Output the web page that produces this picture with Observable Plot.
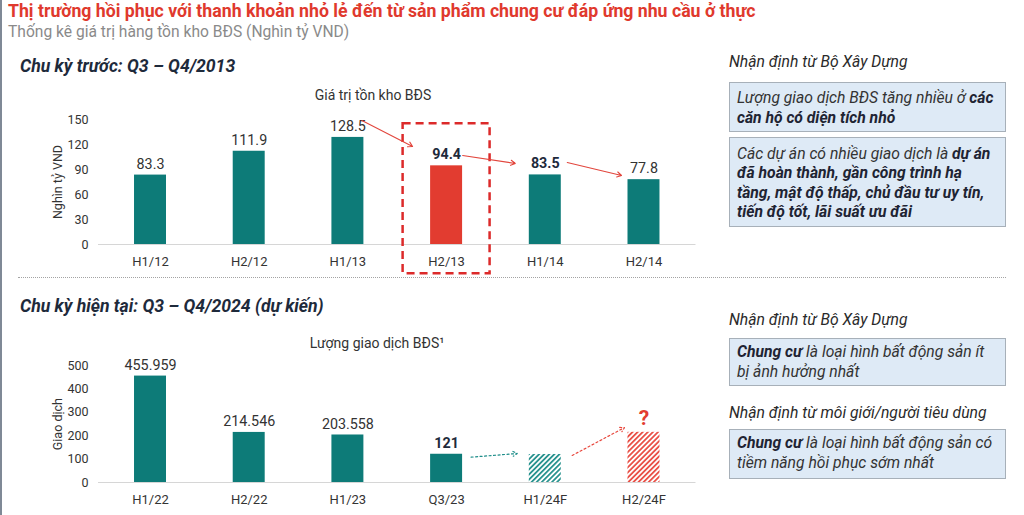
<!DOCTYPE html>
<html><head><meta charset="utf-8">
<script src="https://cdn.jsdelivr.net/npm/d3@7"></script>
<script src="https://cdn.jsdelivr.net/npm/@observablehq/plot@0.6"></script>
<style>
body{margin:0;background:#fff;font-family:Roboto,"Noto Sans",sans-serif;}
#page{position:relative;width:1024px;height:515px;overflow:hidden;background:#fff;}
.abs{position:absolute;white-space:nowrap;line-height:normal;}
#leftbar{position:absolute;left:0;top:0;width:2px;height:515px;background:#7f8996;}
.title{left:8px;top:1.3px;font-size:17.7px;font-weight:bold;color:#e0392d;}
.subtitle{left:8px;top:23.2px;font-size:15.6px;color:#8a8a8a;}
.section{left:20px;font-size:17.6px;font-weight:bold;font-style:italic;color:#1e2a3b;}
.ctitle{font-size:14px;color:#333;transform:translateX(-50%);}
.head{left:729px;font-size:15.7px;font-style:italic;color:#2a2a2a;}
.box{position:absolute;left:729px;width:277px;box-sizing:border-box;border:1px solid #a7b0b9;background:#deeaf6;
  font-size:15.7px;font-style:italic;color:#333;line-height:19.5px;padding-left:7px;white-space:nowrap;}
.box b{color:#1e2433;}
.sep{position:absolute;left:18px;top:277px;width:988px;border-top:1.5px dotted #a3a3a3;}
.chart{position:absolute;left:0;}
</style></head><body><div id="page">
<div id="leftbar"></div>
<div class="abs title">Thị trường hồi phục với thanh khoản nhỏ lẻ đến từ sản phẩm chung cư đáp ứng nhu cầu ở thực</div>
<div class="abs subtitle">Thống kê giá trị hàng tồn kho BĐS (Nghìn tỷ VND)</div>
<div class="abs section" style="top:56.3px">Chu kỳ trước: Q3 – Q4/2013</div>
<div class="abs section" style="top:295.5px">Chu kỳ hiện tại: Q3 – Q4/2024 (dự kiến)</div>
<div class="abs ctitle" style="left:373px;top:87px">Giá trị tồn kho BĐS</div>
<div class="abs ctitle" style="left:377px;top:335px">Lượng giao dịch BĐS¹</div>
<div class="sep"></div>
<div class="chart" id="c1" style="top:78px"></div>
<div class="chart" id="c2" style="top:320px"></div>
<div class="abs head" style="top:52.2px">Nhận định từ Bộ Xây Dựng</div>
<div class="box" style="top:82px;height:50px;padding-top:5px">Lượng giao dịch BĐS tăng nhiều ở <b>các</b><br><b>căn hộ có diện tích nhỏ</b></div>
<div class="box" style="top:137px;height:90px;padding-top:5.7px">Các dự án có nhiều giao dịch là <b>dự án</b><br><b>đã hoàn thành, gần công trình hạ</b><br><b>tầng, mật độ thấp, chủ đầu tư uy tín,</b><br><b>tiến độ tốt, lãi suất ưu đãi</b></div>
<div class="abs head" style="top:310.4px">Nhận định từ Bộ Xây Dựng</div>
<div class="box" style="top:338px;height:48px;padding-top:3px"><b>Chung cư</b> là loại hình bất động sản ít<br>bị ảnh hưởng nhất</div>
<div class="abs head" style="top:402.8px">Nhận định từ môi giới/người tiêu dùng</div>
<div class="box" style="top:429px;height:50px;padding-top:3px"><b>Chung cư</b> là loại hình bất động sản có<br>tiềm năng hồi phục sớm nhất</div>
</div>
<script>
// ---- Data: previous cycle (inventory value, thousand billion VND)
const periods1 = ["H1/12", "H2/12", "H1/13", "H2/13", "H1/14", "H2/14"];
const inventory1 = [83.3, 111.9, 128.5, 94.4, 83.5, 77.8];
const labels1 = ["83.3", "111.9", "128.5", "94.4", "83.5", "77.8"];
const bold1 = [false, false, false, true, true, false];
const ticks1 = [0, 30, 60, 90, 120, 150];
const highlight1 = "H2/13";
const highlightSpan1 = [-35, 145];
const arrowFrom1 = ["H1/13", "H2/13", "H1/14"];
const arrowTo1 = ["H2/13", "H1/14", "H2/14"];
const arrowStart1 = [157.3, 109.7, 104.8];
const arrowEnd1 = [96.8, 91.8, 76.3];

// ---- Data: current cycle (transactions)
const periods2 = ["H1/22", "H2/22", "H1/23", "Q3/23", "H1/24F", "H2/24F"];
const transactions2 = [455.959, 214.546, 203.558, 121, 120, 215];
const labels2 = ["455.959", "214.546", "203.558", "121", "", ""];
const bold2 = [false, false, false, true, false, false];
const forecast2 = [false, false, false, false, true, true];
const ticks2 = [0, 100, 200, 300, 400, 500];
const highlight2 = "H2/24F";
const arrowFrom2 = ["Q3/23", "H1/24F"];
const arrowTo2 = ["H1/24F", "H2/24F"];
const arrowStart2 = [100.3, 54.4];
const arrowEnd2 = [133.7, 279.9];
const questionY2 = 274;

const teal = "#0d7b78", red = "#e23c30", navy = "#1e2a3b", hatchTeal = "#1d8d89", hatchRed = "#e8473d";

const data1 = periods1.map((p, i) => ({period: p, value: inventory1[i], label: labels1[i], bold: bold1[i]}));
const data2 = periods2.map((p, i) => ({period: p, value: transactions2[i], label: labels2[i], bold: bold2[i], forecast: forecast2[i]}));

const common = {
  width: 720, marginLeft: 98, marginRight: 24.5,
  style: {fontFamily: "Roboto, sans-serif", fontSize: "12.5px", color: "#333", background: "transparent", overflow: "visible"}
};
const xOpts = (domain) => ({domain, paddingInner: 0.676, paddingOuter: 0.365, round: false});

function arrowMarks(from, to, s, e, insets, opts) {
  return from.map((f, i) => Plot.arrow([0], {
    x1: () => f, x2: () => to[i], y1: () => s[i], y2: () => e[i],
    insetStart: insets[i][0], insetEnd: insets[i][1], ...opts
  }));
}

const chart1 = Plot.plot({
  ...common, height: 202, marginTop: 41, marginBottom: 36,
  x: xOpts(periods1),
  y: {domain: [0, 150]},
  marks: [
    Plot.ruleY([0], {stroke: "#d6d6d6"}),
    Plot.barY(data1.filter(d => d.period !== highlight1), {x: "period", y: "value", fill: teal}),
    Plot.barY(data1.filter(d => d.period === highlight1), {x: "period", y: "value", fill: red}),
    Plot.axisX({tickSize: 0, tickPadding: 12, fontSize: 13, label: null}),
    Plot.axisY({ticks: ticks1, tickSize: 0, tickPadding: 10, fontSize: 12.5, label: "Nghìn tỷ VND", labelAnchor: "center", labelOffset: 45, labelArrow: "none"}),
    Plot.text(data1.filter(d => !d.bold), {x: "period", y: "value", text: "label", dy: -11, fontSize: 14.3, fill: "#333"}),
    Plot.text(data1.filter(d => d.bold), {x: "period", y: "value", text: "label", dy: -11, fontSize: 14.3, fontWeight: "bold", fill: navy}),
    Plot.barY([highlight1], {x: d => d, y1: () => highlightSpan1[0], y2: () => highlightSpan1[1], fill: "none", stroke: "#dc2a2a", strokeWidth: 2.5, strokeDasharray: "8,5", insetLeft: -27.5, insetRight: -27.5}),
    ...arrowMarks(arrowFrom1, arrowTo1, arrowStart1, arrowEnd1, [[15.7, 38.2], [16.2, 30.3], [22.6, 23.1]], {stroke: "#e2463d", strokeWidth: 1.1, headLength: 7})
  ]
});
document.getElementById("c1").append(chart1);

const chart2 = Plot.plot({
  ...common, height: 200, marginTop: 45.3, marginBottom: 38,
  x: xOpts(periods2),
  y: {domain: [0, 500]},
  marks: [
    Plot.ruleY([0], {stroke: "#d6d6d6"}),
    Plot.barY(data2.filter(d => !d.forecast), {x: "period", y: "value", fill: teal}),
    Plot.barY(data2.filter(d => d.forecast && d.period !== highlight2), {x: "period", y: "value", fill: "url(#hatchTeal)"}),
    Plot.barY(data2.filter(d => d.forecast && d.period === highlight2), {x: "period", y: "value", fill: "url(#hatchRed)"}),
    Plot.axisX({tickSize: 0, tickPadding: 12, fontSize: 13, label: null}),
    Plot.axisY({ticks: ticks2, tickSize: 0, tickPadding: 10, fontSize: 12.5, label: "Giao dịch", labelAnchor: "center", labelOffset: 45, labelArrow: "none"}),
    Plot.text(data2.filter(d => !d.bold && d.label), {x: "period", y: "value", text: "label", dy: -11, fontSize: 14.3, fill: "#333"}),
    Plot.text(data2.filter(d => d.bold), {x: "period", y: "value", text: "label", dy: -11, fontSize: 14.3, fontWeight: "bold", fill: navy}),
    ...arrowMarks(arrowFrom2.slice(0, 1), arrowTo2.slice(0, 1), arrowStart2.slice(0, 1), arrowEnd2.slice(0, 1), [[24.6, 28.1]], {stroke: hatchTeal, strokeWidth: 1.2, strokeDasharray: "2,2.5", headLength: 6}),
    ...arrowMarks(arrowFrom2.slice(1), arrowTo2.slice(1), arrowStart2.slice(1), arrowEnd2.slice(1), [[30.5, 22.1]], {stroke: hatchRed, strokeWidth: 1.2, strokeDasharray: "2,2.5", headLength: 6}),
    Plot.text([highlight2], {x: d => d, y: () => questionY2, text: () => "?", fontSize: 21, fontWeight: "bold", fill: red})
  ]
});
// hatch patterns
const defs = d3.select(chart2).insert("defs", ":first-child");
[["hatchTeal", hatchTeal], ["hatchRed", hatchRed]].forEach(([id, c]) => {
  const p = defs.append("pattern").attr("id", id).attr("patternUnits", "userSpaceOnUse")
    .attr("width", 3.6).attr("height", 3.6).attr("patternTransform", "rotate(45)");
  p.append("rect").attr("width", 3.6).attr("height", 3.6).attr("fill", "#fff");
  p.append("line").attr("x1", 0.9).attr("y1", 0).attr("x2", 0.9).attr("y2", 3.6).attr("stroke", c).attr("stroke-width", 1.7);
});
document.getElementById("c2").append(chart2);
</script>
</body></html>
